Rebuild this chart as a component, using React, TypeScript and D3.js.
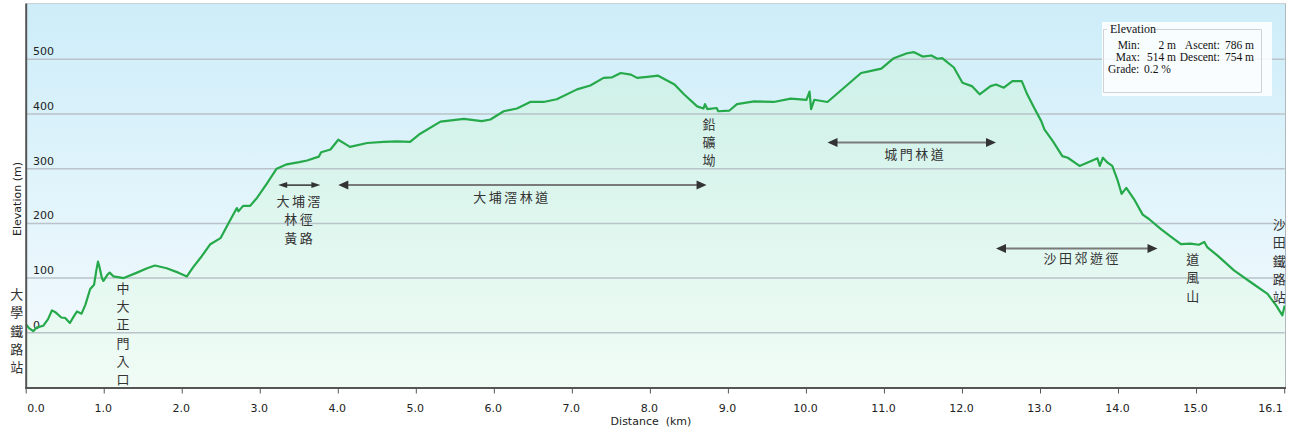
import React from 'react';
import * as d3 from 'd3';

// elevation profile (km, m)
const dist = [
  0.00, 0.04, 0.09, 0.14, 0.22, 0.28, 0.33, 0.38, 0.45, 0.50, 0.56, 0.61, 0.65, 0.71, 0.76, 0.82, 0.87, 0.90, 0.92, 0.94,
  0.97, 0.99, 1.04, 1.07, 1.12, 1.25, 1.42, 1.55, 1.65, 1.80, 1.95, 2.06, 2.14, 2.25, 2.36, 2.49, 2.61, 2.70, 2.72, 2.78,
  2.87, 2.96, 3.08, 3.21, 3.34, 3.50, 3.60, 3.75, 3.78, 3.90, 4.00, 4.15, 4.37, 4.58, 4.75, 4.92, 5.05, 5.31, 5.61, 5.84,
  5.95, 6.12, 6.29, 6.46, 6.63, 6.80, 7.06, 7.23, 7.40, 7.51, 7.62, 7.75, 7.83, 7.96, 8.10, 8.31, 8.43, 8.60, 8.68, 8.70,
  8.73, 8.85, 8.87, 9.01, 9.11, 9.33, 9.58, 9.80, 10.00, 10.04, 10.06, 10.10, 10.27, 10.53, 10.70, 10.80, 10.96, 11.12,
  11.29, 11.38, 11.49, 11.60, 11.68, 11.74, 11.89, 12.00, 12.12, 12.22, 12.36, 12.43, 12.53, 12.64, 12.76, 12.83, 12.92,
  13.01, 13.05, 13.16, 13.28, 13.35, 13.50, 13.65, 13.73, 13.76, 13.80, 13.86, 13.92, 13.99, 14.04, 14.10, 14.20, 14.31,
  14.39, 14.54, 14.67, 14.80, 14.92, 15.03, 15.10, 15.14, 15.27, 15.48, 15.70, 15.91, 16.02, 16.10, 16.13,
];
const elev = [
  15, 8, 3, 10, 13, 25, 41, 37, 28, 27, 18, 30, 39, 35, 52, 80, 88, 115, 130, 120,
  100, 95, 106, 110, 103, 100, 110, 118, 123, 118, 110, 103, 120, 140, 162, 173, 205, 228, 222, 232,
  232, 247, 272, 300, 308, 312, 315, 322, 330, 335, 353, 340, 347, 349, 350, 349, 364, 386, 391, 387,
  390, 405, 410, 422, 422, 427, 445, 452, 466, 467, 475, 472, 466, 468, 470, 454, 436, 414, 410, 418,
  409, 411, 405, 406, 418, 423, 422, 428, 426, 441, 409, 426, 422, 454, 475, 478, 483, 502,
  511, 513, 505, 507, 501, 502, 485, 457, 451, 436, 451, 454, 448, 460, 460, 436, 411,
  387, 372, 350, 323, 320, 305, 314, 319, 305, 320, 311, 305, 278, 254, 265, 244, 216,
  208, 190, 176, 162, 163, 161, 166, 156, 141, 114, 92, 71, 50, 32, 50,
];

const yTicks = [0, 100, 200, 300, 400, 500];
const xTicks = [0, 1, 2, 3, 4, 5, 6, 7, 8, 9, 10, 11, 12, 13, 14, 15, 16.13];
const xTickLabels = ['0.0', '1.0', '2.0', '3.0', '4.0', '5.0', '6.0', '7.0', '8.0', '9.0', '10.0', '11.0', '12.0', '13.0', '14.0', '15.0', '16.1'];

// arrows: [start km, end km, elevation m]
const arrowFrom = [3.23, 4.0, 10.27, 12.43];
const arrowTo = [3.77, 8.72, 12.43, 14.5];
const arrowAt = [270, 270, 348, 154];

// horizontal route labels
const routeNames = ['大埔滘林道', '城門林道', '沙田郊遊徑'];
const routeKm = [6.21, 11.38, 13.52];
const routeM = [250, 328, 138];

// vertical place labels, one character per row
const placeNames = ['大學鐵路站', '中大正門入口', '鉛礦坳', '道風山', '沙田鐵路站'];
const placeKm = [-0.12, 1.24, 8.75, 14.95, 16.06];
const placeM = [72, 83, 383, 136, 200];

// short trail label, one line per row
const trailLines = ['大埔滘', '林徑', '黃路'];
const trailKm = 3.49;
const trailM = 242;

const statsLabels = ['Min:', 'Max:'];
const statsValues = ['2 m', '514 m'];
const statsLabels2 = ['Ascent:', 'Descent:'];
const statsValues2 = ['786 m', '754 m'];
const grade = '0.2 %';

const W = 1291;
const H = 434;
const left = 26.2;
const right = 1284.7;
const top = 4.6;
const bottom = 387.5;

const CJK = '"Noto Sans CJK TC", "Noto Sans CJK SC", sans-serif';
const SERIF = '"Liberation Serif", serif';

export default function App() {
  const x = d3.scaleLinear().domain([0, 16.13]).range([left, right]);
  const y = d3.scaleLinear().domain([-100, 600]).range([bottom, top]);
  const pts = dist.map((d, i) => [d, elev[i]] as [number, number]);

  const line = d3.line<[number, number]>().x(d => x(d[0])).y(d => y(d[1]));
  const area = d3.area<[number, number]>().x(d => x(d[0])).y0(bottom).y1(d => y(d[1]));

  const head = (tipX: number, cy: number, dir: number, len: number, hw: number) =>
    `M${tipX},${cy} L${tipX - dir * len},${cy - hw} L${tipX - dir * len},${cy + hw} Z`;

  const step = 18.3;

  return (
    <div style={{ position: 'absolute', left: 0, top: 0 }}>
      <svg width={W} height={H} style={{ display: 'block' }}>
        <defs>
          <linearGradient id="bg" x1="0" y1="0" x2="0" y2="1">
            <stop offset="0%" stopColor="#cdedf9" />
            <stop offset="100%" stopColor="#f6fbfe" />
          </linearGradient>
          <linearGradient id="fill" gradientUnits="userSpaceOnUse" x1="0" y1={top} x2="0" y2={bottom}>
            <stop offset="0%" stopColor="#c8efe6" />
            <stop offset="100%" stopColor="#f0fcf5" />
          </linearGradient>
        </defs>
        <rect x={0} y={0} width={W} height={H} fill="#ffffff" />
        <rect x={left} y={top - 1} width={right - left + 0.5} height={bottom - top + 1} fill="url(#bg)" />
        <path d={area(pts) || ''} fill="url(#fill)" />

        {yTicks.map(t => (
          <g key={t}>
            <line x1={left} x2={right} y1={y(t)} y2={y(t)} stroke="#b9c3c9" strokeWidth={1.5} />
            <text x={33} y={y(t) - 4} fontFamily="DejaVu Sans, sans-serif" fontSize={11} fill="#222">{t}</text>
          </g>
        ))}

        <path d={line(pts) || ''} fill="none" stroke="#25a94a" strokeWidth={2.2} strokeLinejoin="round" />

        {/* frame */}
        <line x1={left} x2={right + 1} y1={top - 1} y2={top - 1} stroke="#c6cdd2" strokeWidth={1} />
        <line x1={right + 0.8} x2={right + 0.8} y1={top - 1} y2={bottom} stroke="#b0b8be" strokeWidth={1} />
        <line x1={left} x2={left} y1={top - 1} y2={bottom + 1} stroke="#555" strokeWidth={2} />
        <line x1={left - 1} x2={right + 1.3} y1={bottom + 0.5} y2={bottom + 0.5} stroke="#555" strokeWidth={2} />

        {xTicks.map((t, i) => {
          const anchor = i === 0 ? 'start' : i === xTicks.length - 1 ? 'end' : 'middle';
          const px = x(t);
          return (
            <g key={t}>
              <line x1={px} x2={px} y1={bottom} y2={bottom + 6} stroke="#555" strokeWidth={1} />
              <text x={i === 0 ? px + 1 : i === xTicks.length - 1 ? px - 2 : px - 1} y={412} textAnchor={anchor}
                fontFamily="DejaVu Sans, sans-serif" fontSize={11} fill="#222">{xTickLabels[i]}</text>
            </g>
          );
        })}
        <text x={651} y={425} textAnchor="middle" fontFamily="DejaVu Sans, sans-serif" fontSize={11} fill="#222"
          style={{ whiteSpace: 'pre' }}>{'Distance  (km)'}</text>
        <text transform={`translate(21,199) rotate(-90)`} textAnchor="middle" fontFamily="DejaVu Sans, sans-serif"
          fontSize={11} fill="#222">Elevation (m)</text>

        {/* arrows */}
        {arrowFrom.map((a, i) => {
          const x1 = x(a);
          const x2 = x(arrowTo[i]);
          const cy = y(arrowAt[i]);
          const small = i === 0;
          const len = small ? 9 : 10;
          const hw = small ? 3 : 4.5;
          return (
            <g key={i}>
              <line x1={x1 + len - 1} x2={x2 - len + 1} y1={cy} y2={cy} stroke={small ? '#333' : '#7a7a7a'}
                strokeWidth={small ? 1.5 : 2} />
              <path d={head(x1, cy, -1, len, hw)} fill="#333" />
              <path d={head(x2, cy, 1, len, hw)} fill="#333" />
            </g>
          );
        })}

        {routeNames.map((n, i) => (
          <text key={n} x={x(routeKm[i]) + 1.25} y={y(routeM[i])} textAnchor="middle" dominantBaseline="central"
            fontFamily={CJK} fontSize={13} letterSpacing={2.5} fill="#333">{n}</text>
        ))}

        {trailLines.map((n, i) => (
          <text key={n} x={x(trailKm) + 1.25} y={y(trailM) + i * step} textAnchor="middle" dominantBaseline="central"
            fontFamily={CJK} fontSize={13} letterSpacing={2.5} fill="#333">{n}</text>
        ))}

        {placeNames.map((n, i) => (
          <g key={n}>
            {Array.from(n).map((c, j) => (
              <text key={j} x={x(placeKm[i])} y={y(placeM[i]) + j * step} textAnchor="middle"
                dominantBaseline="central" fontFamily={CJK} fontSize={13} fill="#333">{c}</text>
            ))}
          </g>
        ))}

        {/* stats box */}
        <rect x={1102} y={22} width={170} height={74} fill="#ffffff" fillOpacity={0.85} />
        <path d="M1107,29.5 L1103.5,29.5 L1103.5,92.5 L1261.5,92.5 L1261.5,29.5 L1154,29.5" fill="none"
          stroke="#cfd3d6" strokeWidth={1} />
        <text x={1110} y={33} fontFamily={SERIF} fontSize={12} fill="#111">Elevation</text>
        {statsLabels.map((l, i) => (
          <g key={l} fontFamily={SERIF} fontSize={11.5} fill="#111" textAnchor="end">
            <text x={1140} y={48.5 + i * 12.3}>{l}</text>
            <text x={1176} y={48.5 + i * 12.3}>{statsValues[i]}</text>
            <text x={1220} y={48.5 + i * 12.3}>{statsLabels2[i]}</text>
            <text x={1254} y={48.5 + i * 12.3}>{statsValues2[i]}</text>
          </g>
        ))}
        <text x={1108} y={73.3} fontFamily={SERIF} fontSize={11.5} fill="#111">Grade:</text>
        <text x={1144} y={73.3} fontFamily={SERIF} fontSize={11.5} fill="#111">{grade}</text>
      </svg>
    </div>
  );
}
